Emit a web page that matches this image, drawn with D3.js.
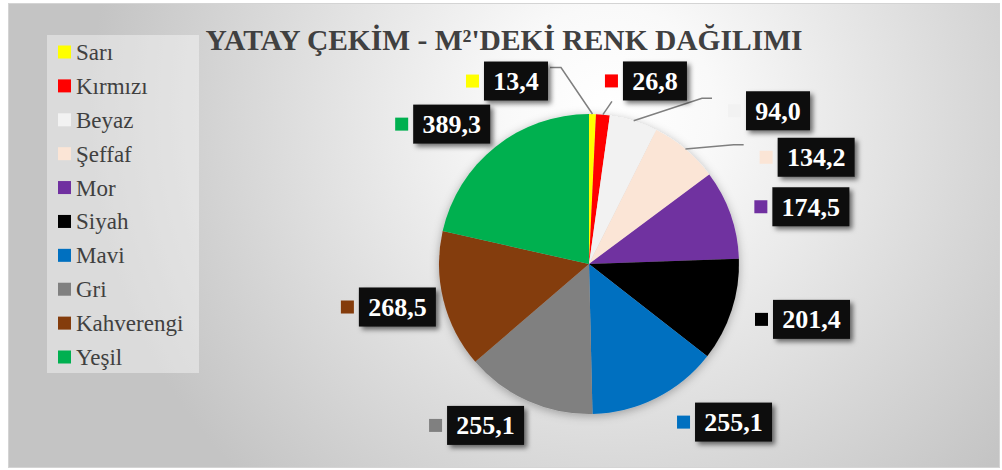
<!DOCTYPE html>
<html>
<head>
<meta charset="utf-8">
<script src="https://cdn.jsdelivr.net/npm/d3@7/dist/d3.min.js"></script>
<style>
  body { margin: 0; background: #fff; }
  svg { display: block; }
</style>
</head>
<body>
<svg width="1002" height="470"></svg>
<script>
// Chart data
var categories = ["Sarı", "Kırmızı", "Beyaz", "Şeffaf", "Mor", "Siyah", "Mavi", "Gri", "Kahverengi", "Yeşil"];
var values = [13.4, 26.8, 94.0, 134.2, 174.5, 201.4, 255.1, 255.1, 268.5, 389.3];
var colors = ["#ffff00", "#ff0000", "#f2f2f2", "#fbe5d6", "#7030a0", "#000000", "#0070c0", "#808080", "#843c0c", "#00b050"];
var title = "YATAY ÇEKİM - M²'DEKİ RENK DAĞILIMI";

// Label layout: shift from the outside-end point, and leader style
var labelShift = [[-78, 32], [46, 31], [125, 52], [89, 58], [19, 14], [18, -11], [48, -34], [-16, -35], [17, -9], [-3, 28]];
var leaders = ["right", "below", "left", "left", null, null, null, null, null, null];

var FONT = "'Liberation Serif', 'Times New Roman', Times, serif";

var svg = d3.select("svg").attr("font-family", FONT);
var cx = 589, cy = 264, radius = 150;

var defs = svg.append("defs");
var bg = defs.append("radialGradient").attr("id", "bg")
  .attr("gradientUnits", "userSpaceOnUse")
  .attr("cx", 610).attr("cy", 110).attr("r", 520);
bg.append("stop").attr("offset", 0).attr("stop-color", "#ffffff");
bg.append("stop").attr("offset", 0.2).attr("stop-color", "#f9f9f9");
bg.append("stop").attr("offset", 1).attr("stop-color", "#c4c4c4");

var sh = defs.append("filter").attr("id", "boxShadow")
  .attr("x", "-20%").attr("y", "-20%").attr("width", "150%").attr("height", "160%");
sh.append("feDropShadow").attr("dx", 3).attr("dy", 3).attr("stdDeviation", 2.5)
  .attr("flood-color", "#000").attr("flood-opacity", 0.55);

var pieSh = defs.append("filter").attr("id", "pieShadow")
  .attr("x", "-20%").attr("y", "-20%").attr("width", "140%").attr("height", "140%");
pieSh.append("feDropShadow").attr("dx", 0).attr("dy", 2).attr("stdDeviation", 5)
  .attr("flood-color", "#000").attr("flood-opacity", 0.3);

// Background panel
svg.append("rect")
  .attr("x", 8.5).attr("y", 3.5).attr("width", 991).attr("height", 464)
  .attr("fill", "url(#bg)").attr("stroke", "#d4d4d4");

// Title
svg.append("text")
  .attr("x", 504).attr("y", 50)
  .attr("text-anchor", "middle")
  .attr("font-family", FONT)
  .attr("font-size", 29.5).attr("font-weight", "bold")
  .attr("fill", "#404040")
  .text(title);

// Legend
var legend = svg.append("g").attr("transform", "translate(47,35)");
legend.append("rect")
  .attr("width", 152).attr("height", 338)
  .attr("fill", "#ffffff").attr("fill-opacity", 0.4);

var legendY = d3.scalePoint().domain(categories).range([17, 322]);

var items = legend.selectAll(".item")
  .data(categories)
  .enter().append("g")
  .attr("class", "item")
  .attr("transform", d => "translate(0," + legendY(d) + ")");
items.append("rect")
  .attr("x", 11).attr("y", -6.5).attr("width", 13).attr("height", 13)
  .attr("fill", (d, i) => colors[i]);
items.append("text")
  .attr("x", 29).attr("y", 8)
  .attr("font-family", FONT)
  .attr("font-size", 23).attr("fill", "#404040")
  .text(d => d);

// Pie
var pie = d3.pie().sort(null).value(d => d);
var arcs = pie(values);
var arc = d3.arc().innerRadius(0).outerRadius(radius);
var edgeArc = d3.arc().innerRadius(radius).outerRadius(radius);
var labelArc = d3.arc().innerRadius(215).outerRadius(215);

var g = svg.append("g").attr("transform", "translate(" + cx + "," + cy + ")");

g.append("g").attr("filter", "url(#pieShadow)")
  .selectAll("path")
  .data(arcs)
  .enter().append("path")
  .attr("d", arc)
  .attr("fill", (d, i) => colors[i]);

// Data labels
var fmt = v => d3.format(".1f")(v).replace(".", ",");
var boxH = 39, keySize = 13, keyGap = 5;

var labels = g.selectAll(".label")
  .data(arcs)
  .enter().append("g")
  .attr("class", "label");

labels.each(function(d, i) {
  var sel = d3.select(this);
  var c = labelArc.centroid(d);
  var bx = c[0] + labelShift[i][0], by = c[1] + labelShift[i][1];

  var txt = sel.append("text")
    .attr("font-family", FONT)
    .attr("font-size", 26).attr("font-weight", "bold")
    .attr("fill", "#ffffff")
    .text(fmt(d.value));
  var tw = txt.node().getComputedTextLength();
  var boxW = Math.round(tw + 18);
  var left = bx - boxW / 2, top = by - boxH / 2;

  sel.insert("rect", "text")
    .attr("x", left).attr("y", top)
    .attr("width", boxW).attr("height", boxH)
    .attr("fill", "#0d0d0d")
    .attr("filter", "url(#boxShadow)");
  txt.attr("x", bx).attr("y", top + 28.5).attr("text-anchor", "middle");

  var keyLeft = left - keyGap - keySize;
  sel.append("rect")
    .attr("x", keyLeft).attr("y", by - keySize / 2)
    .attr("width", keySize).attr("height", keySize)
    .attr("fill", colors[i]);

  // Leader lines
  if (leaders[i]) {
    var p0 = edgeArc.centroid(d), pts;
    if (leaders[i] === "right") {
      var e = [left + boxW + 2, top + 6];
      pts = [p0, [e[0] + 11, e[1]], e];
    } else if (leaders[i] === "left") {
      var e2 = [keyLeft - 16, top + 7];
      pts = [p0, [e2[0] - 10, e2[1]], e2];
    } else {
      pts = [p0, [keyLeft + 7, top + boxH + 1]];
    }
    g.insert("path", ".label")
      .attr("d", d3.line()(pts))
      .attr("fill", "none")
      .attr("stroke", "#7f7f7f").attr("stroke-width", 1.5);
  }
});
</script>
</body>
</html>
